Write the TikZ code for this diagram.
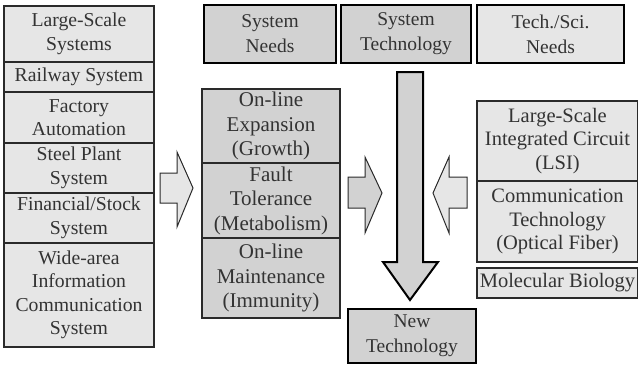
\documentclass[tikz,border=0pt]{standalone}
\usepackage{fontspec}
\setmainfont{Liberation Serif}
\definecolor{txt}{HTML}{333333}
\definecolor{lightf}{HTML}{E6E6E6}
\definecolor{darkf}{HTML}{D2D2D2}
\definecolor{edge}{HTML}{2A2A2A}
\begin{document}
\begin{tikzpicture}[x=1pt,y=-1pt,
  cell/.style={draw=edge, line width=1.2pt, inner sep=0pt, align=center, text=txt},
  thick cell/.style={cell, draw=black, line width=2pt},
  leftfont/.style={font=\fontsize{19.7}{23.5}\selectfont},
  midfont/.style={font=\fontsize{21}{24.5}\selectfont},
  rightfont/.style={font=\fontsize{20.5}{23.5}\selectfont},
  topfont/.style={font=\fontsize{19.5}{25}\selectfont},
  blockarrow/.style={draw=edge, line width=1pt, line join=miter},
  bigarrow/.style={draw=black, line width=2pt, line join=miter, fill=darkf}
]
\useasboundingbox (0,0) rectangle (638,367);
\fill[white] (0,0) rectangle (638,367);

% left column
\node[cell, leftfont, fill=lightf, minimum width=150pt, minimum height=56pt] (ls) at (79,34) {Large-Scale\\Systems};
\node[cell, leftfont, fill=lightf, minimum width=150pt, minimum height=30pt] (rail) at (79,77) {Railway System};
\node[cell, leftfont, fill=lightf, minimum width=150pt, minimum height=51pt] (fa) at (79,117.5) {Factory\\Automation};
\node[cell, leftfont, fill=lightf, minimum width=150pt, minimum height=50pt] (sp) at (79,168) {Steel Plant\\System};
\node[cell, leftfont, fill=lightf, minimum width=150pt, minimum height=50pt] (fs) at (79,218) {Financial/Stock\\System};
\node[cell, leftfont, fill=lightf, minimum width=150pt, minimum height=104pt] (wa) at (79,295) {Wide-area\\Information\\Communication\\System};

% top boxes
\node[thick cell, topfont, fill=darkf, minimum width=132pt, minimum height=58pt] (sn) at (270,34) {System\\Needs};
\node[thick cell, topfont, fill=darkf, minimum width=130pt, minimum height=58pt] (st) at (406,34) {System\\Technology};
\node[thick cell, topfont, fill=lightf, minimum width=147pt, minimum height=58pt] (ts) at (550.5,34) {Tech./Sci.\\Needs};

% middle column
\node[cell, midfont, fill=darkf, minimum width=138pt, minimum height=74pt] (oe) at (271,126) {On-line\\Expansion\\(Growth)};
\node[cell, midfont, fill=darkf, minimum width=138pt, minimum height=75pt] (ft) at (271,200.5) {Fault\\Tolerance\\(Metabolism)};
\node[cell, midfont, fill=darkf, minimum width=138pt, minimum height=80pt] (om) at (271,278) {On-line\\Maintenance\\(Immunity)};

% right column
\node[cell, rightfont, fill=lightf, minimum width=161pt, minimum height=80pt] (lsi) at (557.5,141) {Large-Scale\\Integrated Circuit\\(LSI)};
\node[cell, rightfont, fill=lightf, minimum width=161pt, minimum height=81pt] (ct) at (557.5,221.5) {Communication\\Technology\\(Optical Fiber)};
\node[cell, rightfont, fill=lightf, minimum width=161pt, minimum height=30pt] (mb) at (557.5,283) {Molecular Biology};

% new technology
\node[thick cell, topfont, fill=darkf, minimum width=128pt, minimum height=54pt] (nt) at (412,336) {New\\Technology};

% block arrows
\draw[blockarrow, fill=lightf] (160,173) -- (177,173) -- (177,152) -- (193,188) -- (177,227) -- (177,203) -- (160,203) -- cycle;
\draw[blockarrow, fill=darkf] (348,177) -- (365,177) -- (365,157) -- (382,193) -- (365,233) -- (365,208) -- (348,208) -- cycle;
\draw[blockarrow, fill=lightf] (467,177) -- (449,177) -- (449,157) -- (433,193) -- (449,233) -- (449,208) -- (467,208) -- cycle;

% big down arrow
\draw[bigarrow] (397,72) -- (423,72) -- (423,262) -- (438,262) -- (410,300) -- (383,262) -- (397,262) -- cycle;
\end{tikzpicture}
\end{document}
